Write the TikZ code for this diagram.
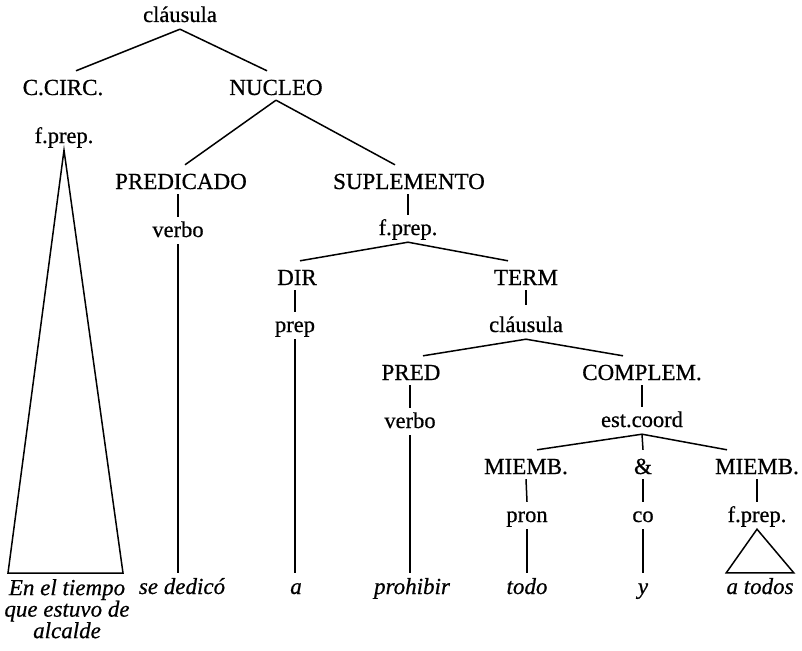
\documentclass[tikz,border=0pt]{standalone}
\usepackage{fontspec}
\setmainfont[FakeBold=0.6]{Liberation Serif}
\begin{document}
\begin{tikzpicture}[x=1pt,y=-1pt,
  every node/.style={inner sep=0pt, font=\fontsize{22.5}{22.5}\selectfont},
  caps/.style={anchor=base, text height=24pt, text depth=5pt, font=\fontsize{23}{23}\selectfont},
  low/.style={anchor=base, text height=20pt, text depth=7pt},
  tall/.style={anchor=base, text height=27pt, text depth=7pt},
  leaf/.style={anchor=base, text height=21pt, text depth=6pt, font=\fontsize{23}{23}\selectfont\itshape},
  edge/.style={line width=1.5pt}]
\useasboundingbox (0,0) rectangle (802,650);
% level nodes
\node[tall] (cl1) at (180,22) {cláusula};
\node[caps] (ccirc) at (63,95) {C.CIRC.};
\node[caps] (nucleo) at (276,95) {NUCLEO};
\node[low] (fp1) at (64,143) {f.prep.};
\node[caps] (predicado) at (181,189) {PREDICADO};
\node[caps] (supl) at (409,189) {SUPLEMENTO};
\node[low] (verbo1) at (178,237) {verbo};
\node[low] (fp2) at (408,235) {f.prep.};
\node[caps] (dir) at (297,285) {DIR};
\node[caps] (term) at (526,285) {TERM};
\node[low] (prep) at (295,332) {prep};
\node[tall] (cl2) at (526,332) {cláusula};
\node[caps] (pred2) at (411,380) {PRED};
\node[caps] (complem) at (642,380) {COMPLEM.};
\node[low] (verbo2) at (410,428) {verbo};
\node[low] (estcoord) at (642,427) {est.coord};
\node[caps] (miemb1) at (526,474) {MIEMB.};
\node[caps] (amp) at (643,474) {\&};
\node[caps] (miemb2) at (757,474) {MIEMB.};
\node[low] (pron) at (527,522) {pron};
\node[low] (co) at (643,522) {co};
\node[low] (fp3) at (757,522) {f.prep.};
% leaves
\node[anchor=north, align=center, font=\fontsize{23}{21.5}\selectfont\itshape] (en) at (67,579) {En el tiempo\\que estuvo de\\alcalde};
\node[leaf] (sededico) at (182,594) {se dedicó};
\node[leaf] (a) at (296,594) {a};
\node[leaf] (prohibir) at (412,594) {prohibir};
\node[leaf] (todo) at (527,594) {todo};
\node[leaf] (y) at (643,594) {y};
\node[leaf] (atodos) at (760,594) {a todos};
\coordinate (bl) at (8,573);
\coordinate (br) at (123,573);
% edges
\draw[edge] (cl1.south) -- ([xshift=13pt]ccirc.north);
\draw[edge] (cl1.south) -- ([xshift=-9pt]nucleo.north);
\draw[edge] (fp1.south) -- (bl) -- (br) -- cycle;
\draw[edge] (nucleo.south) -- ([xshift=4pt]predicado.north);
\draw[edge] (nucleo.south) -- ([xshift=-14pt]supl.north);
\draw[edge] (predicado.south -| verbo1) -- (verbo1.north);
\draw[edge] (verbo1.south) -- (verbo1.south |- sededico.north);
\draw[edge] (supl.south -| fp2) -- (fp2.north);
\draw[edge] (fp2.south) -- ([xshift=3pt]dir.north);
\draw[edge] (fp2.south) -- ([xshift=-18pt]term.north);
\draw[edge] (dir.south -| prep) -- (prep.north);
\draw[edge] (prep.south) -- (prep.south |- a.north);
\draw[edge] (term.south -| cl2) -- (cl2.north);
\draw[edge] (cl2.south) -- ([xshift=12pt]pred2.north);
\draw[edge] (cl2.south) -- ([xshift=-19pt]complem.north);
\draw[edge] (pred2.south -| verbo2) -- (verbo2.north);
\draw[edge] (verbo2.south) -- (verbo2.south |- prohibir.north);
\draw[edge] (complem.south) -- (estcoord.north);
\draw[edge] (estcoord.south) -- ([xshift=11pt]miemb1.north);
\draw[edge] (estcoord.south) -- (amp.north);
\draw[edge] (estcoord.south) -- ([xshift=-30pt]miemb2.north);
\draw[edge] (miemb1.south) -- (pron.north);
\draw[edge] (pron.south) -- (pron.south |- todo.north);
\draw[edge] (amp.south) -- (co.north);
\draw[edge] (co.south) -- (co.south |- y.north);
\draw[edge] (miemb2.south) -- (fp3.north);
\draw[edge] (fp3.south) -- (atodos.north west) -- (atodos.north east) -- cycle;
\end{tikzpicture}
\end{document}
